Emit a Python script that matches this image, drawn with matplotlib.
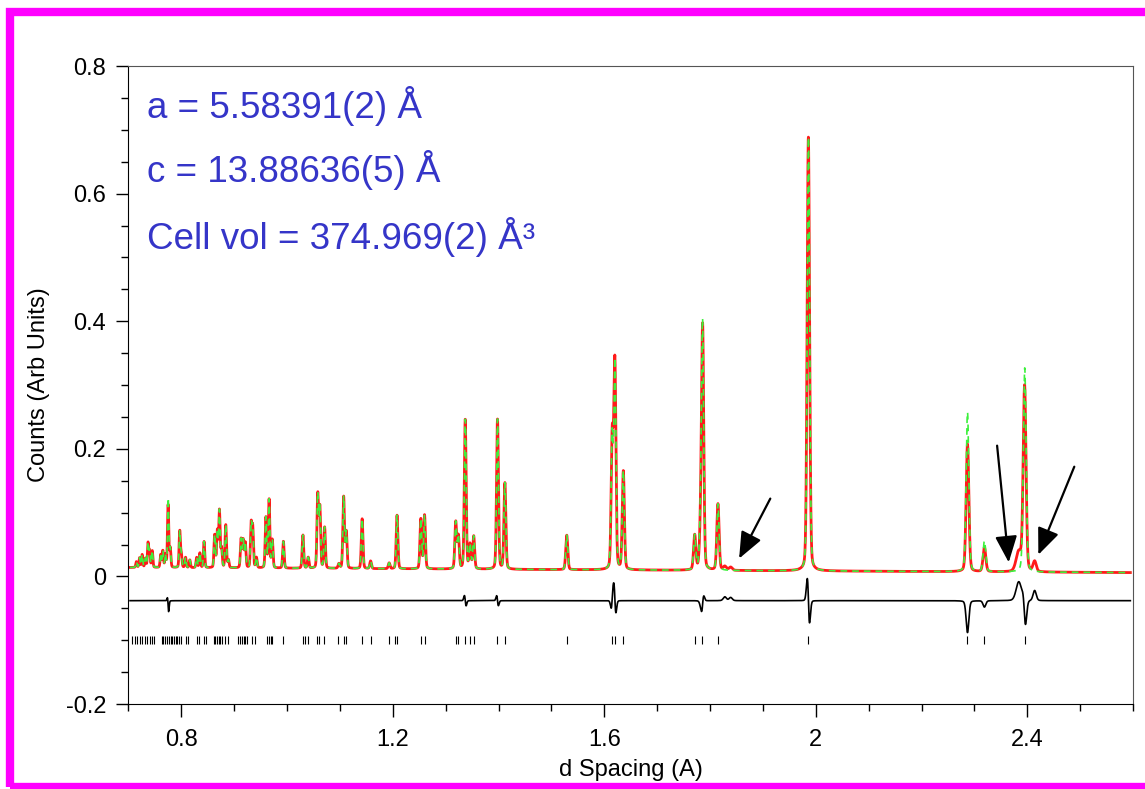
import numpy as np
import matplotlib.pyplot as plt
from matplotlib.patches import Rectangle
from matplotlib.ticker import MultipleLocator, FormatStrFormatter

plt.rcParams["font.family"] = ["Liberation Sans", "DejaVu Sans"]

# Bragg peaks: d spacing (A), observed and calculated height above background
peak_d = [0.715, 0.721, 0.726, 0.732, 0.737, 0.740, 0.745, 0.761, 0.765, 0.770,
          0.775, 0.779, 0.797, 0.800, 0.808, 0.816, 0.829, 0.835, 0.843, 0.863,
          0.868, 0.872, 0.876, 0.884, 0.889, 0.913, 0.917, 0.921, 0.932, 0.935,
          0.942, 0.960, 0.966, 0.972, 0.993, 1.030, 1.040, 1.058, 1.062, 1.071,
          1.098, 1.107, 1.112, 1.142, 1.158, 1.193, 1.208, 1.253, 1.260, 1.319,
          1.324, 1.337, 1.346, 1.353, 1.398, 1.412, 1.529, 1.615, 1.620, 1.636,
          1.771, 1.782, 1.786, 1.815, 1.986, 2.287, 2.319, 2.395]
obs_h = [0.009, 0.015, 0.020, 0.014, 0.038, 0.025, 0.026, 0.020, 0.026, 0.020,
         0.098, 0.030, 0.057, 0.020, 0.016, 0.012, 0.016, 0.023, 0.041, 0.051,
         0.057, 0.089, 0.030, 0.067, 0.012, 0.045, 0.043, 0.039, 0.067, 0.061,
         0.016, 0.079, 0.107, 0.044, 0.042, 0.052, 0.017, 0.115, 0.094, 0.064,
         0.007, 0.112, 0.057, 0.078, 0.012, 0.009, 0.084, 0.078, 0.084, 0.073,
         0.051, 0.234, 0.038, 0.051, 0.235, 0.135, 0.054, 0.205, 0.322, 0.154,
         0.054, 0.050, 0.378, 0.104, 0.680, 0.200, 0.038, 0.290]
calc_h = [0.009, 0.015, 0.020, 0.014, 0.038, 0.025, 0.026, 0.020, 0.026, 0.020,
          0.108, 0.030, 0.057, 0.020, 0.016, 0.012, 0.016, 0.023, 0.041, 0.051,
          0.057, 0.089, 0.030, 0.067, 0.012, 0.045, 0.043, 0.039, 0.067, 0.061,
          0.016, 0.079, 0.107, 0.044, 0.042, 0.052, 0.017, 0.115, 0.094, 0.064,
          0.007, 0.112, 0.057, 0.078, 0.012, 0.009, 0.084, 0.078, 0.084, 0.073,
          0.051, 0.234, 0.038, 0.051, 0.235, 0.135, 0.054, 0.205, 0.322, 0.154,
          0.054, 0.055, 0.383, 0.104, 0.680, 0.250, 0.048, 0.320]
# small misplacement of some calculated peaks (shows up in the difference curve)
calc_shift = {0.775: 0.0002, 1.337: 0.0001, 1.398: 0.0001, 1.615: -0.0002,
              1.620: 0.0002, 1.786: -0.0001, 1.986: 0.0002, 2.395: 0.00025}

# observed intensity the fit misses (the arrowed features)
extra_d = [1.828, 1.839, 2.384, 2.414]
extra_h = [0.006, 0.005, 0.030, 0.016]
extra_w = [0.003, 0.003, 0.005, 0.003]

# background level at the two ends of the pattern
bg_d = [0.70, 2.60]
bg_v = [0.014, 0.006]

# reflection tick marks
tick_d = [0.707, 0.712, 0.716, 0.721, 0.726, 0.731, 0.735, 0.740, 0.745, 0.748,
          0.763, 0.766, 0.770, 0.773, 0.776, 0.780, 0.783, 0.786, 0.789, 0.792,
          0.796, 0.800, 0.808, 0.813, 0.829, 0.834, 0.843, 0.846, 0.861, 0.864,
          0.867, 0.871, 0.874, 0.877, 0.883, 0.889, 0.908, 0.911, 0.915, 0.918,
          0.921, 0.924, 0.934, 0.940, 0.962, 0.965, 0.969, 0.972, 0.992, 1.030,
          1.034, 1.039, 1.056, 1.061, 1.070, 1.096, 1.107, 1.112, 1.142, 1.158,
          1.193, 1.205, 1.208, 1.253, 1.260, 1.319, 1.324, 1.337, 1.346, 1.353,
          1.398, 1.412, 1.529, 1.615, 1.620, 1.636, 1.771, 1.785, 1.815, 1.986,
          2.287, 2.319, 2.395]

diff_offset = -0.038
tick_level = -0.10


def profile(x, centres, heights, widths=None):
    y = np.zeros_like(x)
    for i, (c, h) in enumerate(zip(centres, heights)):
        s = 0.0009 * c + 0.0005 if widths is None else widths[i]
        g = np.exp(-0.5 * ((x - c) / s) ** 2)
        lor = 1.0 / (1.0 + ((x - c) / (1.2 * s)) ** 2)
        y += h * (0.8 * g + 0.2 * lor)
    return y


d = np.linspace(0.703, 2.595, 20000)
bg = np.interp(d, bg_d, bg_v)
obs = bg + profile(d, peak_d, obs_h) + profile(d, extra_d, extra_h, extra_w)
calc_pos = [p + calc_shift.get(p, 0.0) for p in peak_d]
calc = bg + profile(d, calc_pos, calc_h)
diff = obs - calc + diff_offset

fig = plt.figure(figsize=(11.45, 7.89), dpi=100)
ax = fig.add_axes([0.1122, 0.1077, 0.8773, 0.8086])

ax.plot(d, obs, color="#ff1a1a", lw=2.0, zorder=2)
ax.plot(d, calc, color="#3cf03c", lw=1.2, dashes=(4, 3), zorder=3)
ax.plot(d, diff, color="black", lw=1.2, zorder=2)
ax.plot(tick_d, [tick_level] * len(tick_d), ls="none", marker="|",
        ms=6, mew=0.8, color="black")

# arrows pointing at the impurity features
arrow_kw = dict(arrowstyle="-|>,head_length=0.6,head_width=0.25",
                mutation_scale=27, lw=1.6, color="black", shrinkA=0, shrinkB=0)
ax.annotate("", xy=(1.855, 0.028), xytext=(1.914, 0.122), arrowprops=arrow_kw)
ax.annotate("", xy=(2.365, 0.022), xytext=(2.343, 0.205), arrowprops=arrow_kw)
ax.annotate("", xy=(2.421, 0.034), xytext=(2.489, 0.172), arrowprops=arrow_kw)

blue = "#3535c8"
ax.text(0.735, 0.719, "a = 5.58391(2) Å", color=blue, fontsize=26.5,
        va="baseline")
ax.text(0.735, 0.618, "c = 13.88636(5) Å", color=blue, fontsize=26.5,
        va="baseline")
ax.text(0.735, 0.514, "Cell vol = 374.969(2) Å³", color=blue, fontsize=26.5,
        va="baseline")

ax.set_xlim(0.7, 2.6)
ax.set_ylim(-0.2, 0.8)
ax.xaxis.set_major_locator(MultipleLocator(0.4))
ax.xaxis.set_minor_locator(MultipleLocator(0.1))
ax.yaxis.set_major_locator(MultipleLocator(0.2))
ax.yaxis.set_minor_locator(MultipleLocator(0.05))
ax.xaxis.set_major_formatter(FormatStrFormatter("%g"))
ax.yaxis.set_major_formatter(FormatStrFormatter("%g"))
ax.tick_params(axis="x", which="major", length=9, width=1, labelsize=17, pad=9)
ax.tick_params(axis="x", which="minor", length=5, width=1)
ax.tick_params(axis="y", which="major", length=9, width=1, labelsize=17, pad=7)
ax.tick_params(axis="y", which="minor", length=5, width=1)
for side in ["top", "right"]:
    ax.spines[side].set_color("#555555")

ax.set_xlabel("d Spacing (A)", fontsize=17, labelpad=6)
ax.set_ylabel("Counts (Arb Units)", fontsize=17, labelpad=11)

# magenta frame round the figure
fig.patches.append(Rectangle((10 / 1145, 2 / 789), 1.05, 1 - 14 / 789,
                             transform=fig.transFigure, fill=False,
                             edgecolor="#ff00ff", lw=6))

fig.savefig("out.png", dpi=100)
